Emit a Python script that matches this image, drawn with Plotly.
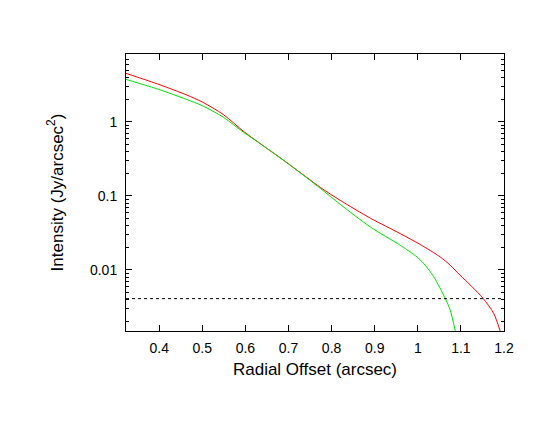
import plotly.graph_objects as go

# radial profiles (arcsec, Jy/arcsec^2)
red_x = [0.323, 0.35, 0.402, 0.464, 0.50, 0.549, 0.596, 0.634, 0.704, 0.774, 0.82,
         0.89, 0.959, 1.006, 1.052, 1.075, 1.098, 1.125, 1.152, 1.176, 1.191]
red_y = [4.5, 4.0, 3.15, 2.3, 1.85, 1.25, 0.74, 0.51, 0.26, 0.13, 0.087,
         0.05, 0.031, 0.022, 0.015, 0.0116, 0.0085, 0.006, 0.0041, 0.0026, 0.0015]

green_x = [0.323, 0.35, 0.402, 0.464, 0.50, 0.549, 0.596, 0.634, 0.704, 0.774, 0.82,
           0.89, 0.959, 0.998, 1.017, 1.037, 1.064, 1.075, 1.087]
green_y = [3.74, 3.35, 2.7, 2.0, 1.65, 1.15, 0.72, 0.51, 0.26, 0.126, 0.077,
           0.038, 0.0216, 0.015, 0.0116, 0.0081, 0.0041, 0.0029, 0.0015]

noise_level = 0.0041

x_ticks = [0.4, 0.5, 0.6, 0.7, 0.8, 0.9, 1.0, 1.1, 1.2]
x_labels = ["0.4", "0.5", "0.6", "0.7", "0.8", "0.9", "1", "1.1", "1.2"]
y_ticks = [0.01, 0.1, 1]
y_labels = ["0.01", "0.1", "1"]
y_minor = [m * 10.0 ** e for e in (-3, -2, -1, 0) for m in range(2, 10)]

fig = go.Figure()
fig.add_trace(go.Scatter(x=red_x, y=red_y, mode="lines",
                         line=dict(color="#ff0000", width=1, shape="spline", smoothing=0.8)))
fig.add_trace(go.Scatter(x=green_x, y=green_y, mode="lines",
                         line=dict(color="#00e000", width=1, shape="spline", smoothing=0.8)))
fig.add_hline(y=noise_level, line=dict(color="black", width=1, dash="dot"))

font = dict(family="Liberation Sans, Arial, sans-serif", size=14, color="black")
# page body adds an 8px offset, so margins are shifted to compensate
fig.update_layout(
    width=550, height=425,
    margin=dict(l=118, r=54, t=46, b=102),
    plot_bgcolor="white", paper_bgcolor="white",
    showlegend=False,
    font=font,
)
fig.update_xaxes(
    range=[0.323, 1.2], tickvals=x_ticks, ticktext=x_labels,
    ticks="inside", ticklen=6, tickcolor="black", mirror="ticks", ticklabelstandoff=4,
    showline=True, linecolor="black", linewidth=1, showgrid=False, zeroline=False,
    title=dict(text="Radial Offset (arcsec)", standoff=8),
)
fig.update_yaxes(
    type="log", range=[-2.824, 0.915], tickvals=y_ticks, ticktext=y_labels,
    ticks="inside", ticklen=6, tickcolor="black", mirror="ticks", ticklabelstandoff=5,
    minor=dict(tickvals=y_minor, ticks="inside", ticklen=3, tickcolor="black", showgrid=False),
    showline=True, linecolor="black", linewidth=1, showgrid=False, zeroline=False,
    title=dict(text="Intensity (Jy/arcsec<sup>2</sup>)", standoff=22),
)

fig.write_html("out.html")
